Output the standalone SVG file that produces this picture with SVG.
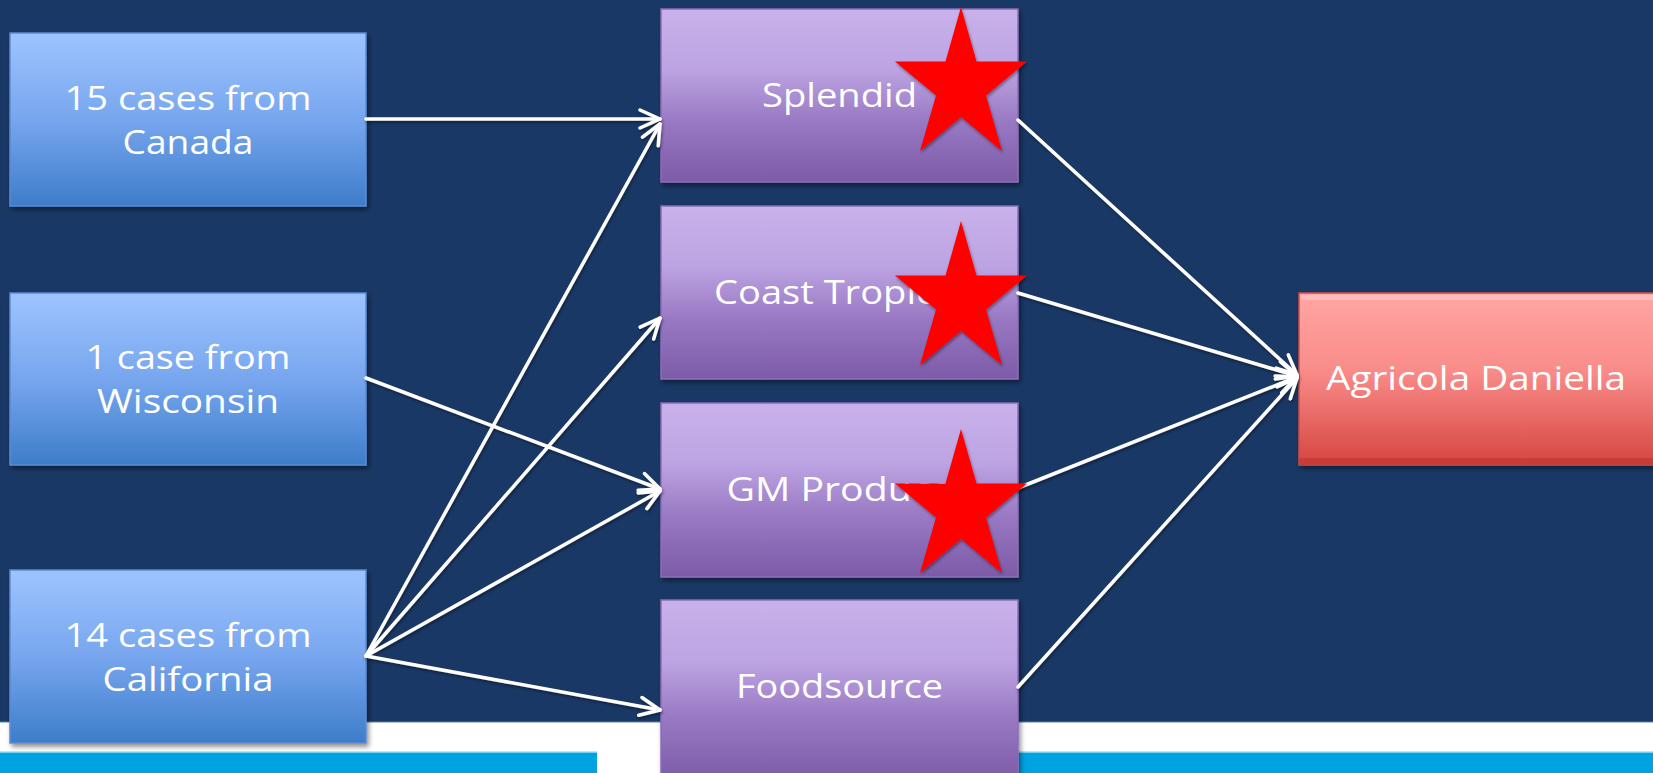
<svg xmlns="http://www.w3.org/2000/svg" width="1653" height="773" viewBox="0 0 1653 773">
<defs>
  <linearGradient id="gBlue" x1="0" y1="0" x2="0" y2="1">
    <stop offset="0" stop-color="#9ec4ff"/>
    <stop offset="0.5" stop-color="#77a6ee"/>
    <stop offset="1" stop-color="#3d7dca"/>
  </linearGradient>
  <linearGradient id="gPurple" x1="0" y1="0" x2="0" y2="1">
    <stop offset="0" stop-color="#c9b2eb"/>
    <stop offset="0.35" stop-color="#bca3e2"/>
    <stop offset="0.65" stop-color="#9979c3"/>
    <stop offset="1" stop-color="#7d5ba7"/>
  </linearGradient>
  <linearGradient id="gRed" x1="0" y1="0" x2="0" y2="1">
    <stop offset="0" stop-color="#ffa6a4"/>
    <stop offset="0.45" stop-color="#f98c89"/>
    <stop offset="1" stop-color="#d64541"/>
  </linearGradient>
  <filter id="shadow" x="-10%" y="-10%" width="125%" height="130%">
    <feDropShadow dx="2" dy="3" stdDeviation="2.5" flood-color="#000" flood-opacity="0.45"/>
  </filter>
  <filter id="lshadow" x="-5%" y="-5%" width="110%" height="110%">
    <feDropShadow dx="1" dy="2" stdDeviation="1.5" flood-color="#000" flood-opacity="0.4"/>
  </filter>
  <marker id="arrow" viewBox="0 0 24 22" refX="22" refY="11" markerWidth="24" markerHeight="22" markerUnits="userSpaceOnUse" orient="auto">
    <path d="M2,2 L22,11 L2,20" fill="none" stroke="#fff" stroke-width="3.5" stroke-linecap="round" stroke-linejoin="round"/>
  </marker>
  <path id="star" d="M0,-79 L15.5,-24.5 L66,-24.5 L25,9.5 L41,65 L0,31 L-41,65 L-25,9.5 L-66,-24.5 L-15.5,-24.5 Z"/>
</defs>
<style>
  .bg { fill: #1a3866; }
  .blue { fill: url(#gBlue); stroke: #5b8cd2; stroke-width: 1.5; filter: url(#shadow); }
  .purple { fill: url(#gPurple); stroke: #8b6db8; stroke-width: 1.5; filter: url(#shadow); }
  .red { fill: url(#gRed); stroke: #c9504c; stroke-width: 1.5; filter: url(#shadow); }
  .lbl { font-family: "Open Sans", "Liberation Sans", sans-serif; font-size: 32px; fill: #ffffff; text-anchor: middle; }
  .conn line { stroke: #ffffff; stroke-width: 3.5; fill: none; marker-end: url(#arrow); stroke-linecap: round; }
  .star { fill: #ff0000; filter: url(#lshadow); }
</style>

<!-- background -->
<rect x="0" y="0" width="1653" height="773" fill="#ffffff"/>
<rect class="bg" x="0" y="0" width="1653" height="722"/>
<line x1="0" y1="722" x2="1653" y2="722" stroke="#5f7fa6" stroke-width="1"/>
<rect x="0" y="752" width="597" height="21" fill="#00a3e1"/>
<rect x="1018" y="752" width="635" height="21" fill="#00a3e1"/>
<line x1="0" y1="752" x2="597" y2="752" stroke="#9fe0f8" stroke-width="1.5"/>
<line x1="1018" y1="752" x2="1653" y2="752" stroke="#9fe0f8" stroke-width="1.5"/>

<!-- source nodes -->
<g id="canada">
  <rect class="blue" x="10" y="33" width="356" height="173"/>
  <text class="lbl" x="188" y="110" textLength="247" lengthAdjust="spacingAndGlyphs">15 cases from</text>
  <text class="lbl" x="188" y="154" textLength="131" lengthAdjust="spacingAndGlyphs">Canada</text>
</g>
<g id="wisconsin">
  <rect class="blue" x="10" y="293" width="356" height="172"/>
  <text class="lbl" x="188" y="369" textLength="205" lengthAdjust="spacingAndGlyphs">1 case from</text>
  <text class="lbl" x="188" y="413" textLength="182" lengthAdjust="spacingAndGlyphs">Wisconsin</text>
</g>
<g id="california">
  <rect class="blue" x="10" y="570" width="356" height="173"/>
  <text class="lbl" x="188" y="647" textLength="247" lengthAdjust="spacingAndGlyphs">14 cases from</text>
  <text class="lbl" x="188" y="691" textLength="171" lengthAdjust="spacingAndGlyphs">California</text>
</g>

<!-- distributor nodes -->
<g id="splendid">
  <rect class="purple" x="661" y="9" width="357" height="173"/>
  <text class="lbl" x="839.5" y="107" textLength="155" lengthAdjust="spacingAndGlyphs">Splendid</text>
</g>
<g id="coast-tropical">
  <rect class="purple" x="661" y="206" width="357" height="173"/>
  <text class="lbl" x="839.5" y="304" textLength="251" lengthAdjust="spacingAndGlyphs">Coast Tropical</text>
</g>
<g id="gm-produce">
  <rect class="purple" x="661" y="403" width="357" height="174"/>
  <text class="lbl" x="839.5" y="501" textLength="226" lengthAdjust="spacingAndGlyphs">GM Produce</text>
</g>
<g id="foodsource">
  <rect class="purple" x="661" y="600" width="357" height="180"/>
  <text class="lbl" x="839.5" y="698" textLength="207" lengthAdjust="spacingAndGlyphs">Foodsource</text>
</g>

<!-- destination node -->
<g id="agricola-daniella">
  <rect class="red" x="1299" y="293" width="360" height="172"/>
  <rect x="1301" y="295" width="356" height="5" fill="#ffc6c4" opacity="0.7"/>
  <rect x="1299" y="458" width="360" height="7" fill="#b8322f" opacity="0.5"/>
  <text class="lbl" x="1476" y="390" textLength="300" lengthAdjust="spacingAndGlyphs">Agricola Daniella</text>
</g>

<!-- connectors -->
<g id="connectors" class="conn" filter="url(#lshadow)">
  <line x1="366" y1="119" x2="660" y2="119"/>
  <line x1="366" y1="378" x2="660" y2="489"/>
  <line x1="366" y1="656" x2="660" y2="124"/>
  <line x1="366" y1="656" x2="660" y2="318"/>
  <line x1="366" y1="656" x2="660" y2="491"/>
  <line x1="366" y1="656" x2="660" y2="710"/>
  <line x1="1018" y1="120" x2="1297" y2="375"/>
  <line x1="1018" y1="293" x2="1297" y2="376"/>
  <line x1="1018" y1="488" x2="1297" y2="377"/>
  <line x1="1018" y1="687" x2="1297" y2="378"/>
</g>

<!-- stars -->
<g id="stars">
  <use href="#star" class="star" transform="translate(961,86)"/>
  <use href="#star" class="star" transform="translate(961,300)"/>
  <use href="#star" class="star" transform="translate(961,508)"/>
</g>
</svg>
